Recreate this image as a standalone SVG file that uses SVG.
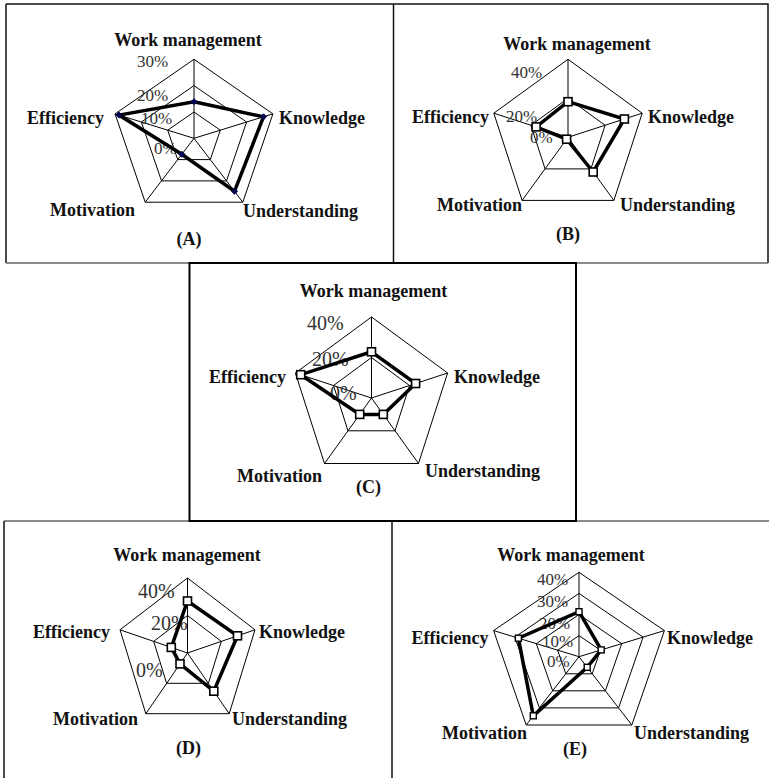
<svg xmlns="http://www.w3.org/2000/svg" width="770" height="778" viewBox="0 0 770 778">
<style>
.bg{fill:#fff}
.frame{fill:none;stroke:#111;stroke-width:1.5}
.frameg{fill:none;stroke:#666;stroke-width:1.5}
.framec{fill:none;stroke:#000;stroke-width:2}
.grid{fill:none;stroke:#000;stroke-width:1}
.data{fill:none;stroke:#000;stroke-width:3.5;stroke-linejoin:miter}
.cat{font-family:"Liberation Serif","Times New Roman",serif;font-weight:bold;font-size:18px;fill:#111}
.pct{font-family:"Liberation Serif","Times New Roman",serif;font-size:17px;fill:#333}
.pct20{font-family:"Liberation Serif","Times New Roman",serif;font-size:20px;fill:#333}
.mid{text-anchor:middle}
.end{text-anchor:end}
</style>
<defs>
<marker id="dot" markerWidth="8" markerHeight="8" refX="4" refY="4" markerUnits="userSpaceOnUse"><path d="M4,1 L7,4 L4,7 L1,4 Z" fill="#000050" stroke="#000050" stroke-width="1"/></marker>
<marker id="sq" markerWidth="12" markerHeight="12" refX="6" refY="6" markerUnits="userSpaceOnUse"><rect x="2" y="2" width="8" height="8" fill="#fff" stroke="#000" stroke-width="1.6"/></marker>
<marker id="sqs" markerWidth="10" markerHeight="10" refX="5" refY="5" markerUnits="userSpaceOnUse"><rect x="2" y="2" width="6" height="6" fill="#fff" stroke="#000" stroke-width="1.4"/></marker>
</defs>
<rect class="bg" x="0" y="0" width="770" height="778"/>

<g id="frames">
<path class="frame" d="M6,4 H768 V263 M6,4 V263 M393.5,4 V263"/>
<path class="frameg" d="M6,263 H768"/>
<path class="frameg" d="M4,521 H769"/>
<path class="frame" d="M4,521 V778 M392,521 V778"/>
<rect class="framec" x="189.5" y="263" width="386.5" height="258"/>
</g>

<g id="panel-a">
<path class="grid" d="M194,59.3 L272.9,113.9 L242.8,202.2 L145.2,202.2 L115.1,113.9 Z M194,85.6 L246.6,122 L226.5,180.9 L161.5,180.9 L141.4,122 Z M194,112 L220.3,130.2 L210.3,159.6 L177.7,159.6 L167.7,130.2 Z M194,138.3 L194,59.3 M194,138.3 L272.9,113.9 M194,138.3 L242.8,202.2 M194,138.3 L145.2,202.2 M194,138.3 L115.1,113.9"/>
<text class="pct" x="137" y="67">30%</text>
<text class="pct" x="137" y="101">20%</text>
<text class="pct" x="141" y="124">10%</text>
<text class="pct" x="154" y="154">0%</text>
<polygon class="data" points="194,101.7 263.5,116.8 234.5,191.3 181.8,154.3 119,115.1" marker-start="url(#dot)" marker-mid="url(#dot)"/>
<text class="cat mid" x="188" y="45.5">Work management</text>
<text class="cat" x="279" y="124">Knowledge</text>
<text class="cat end" x="104" y="124">Efficiency</text>
<text class="cat" x="50" y="216">Motivation</text>
<text class="cat" x="243" y="217">Understanding</text>
<text class="cat mid" x="189" y="245">(A)</text>
</g>

<g id="panel-b">
<path class="grid" d="M568,59.3 L642.2,113.2 L613.9,200.4 L522.1,200.4 L493.8,113.2 Z M568,98.3 L605.1,125.3 L590.9,168.9 L545.1,168.9 L530.9,125.3 Z M568,137.3 L568,59.3 M568,137.3 L642.2,113.2 M568,137.3 L613.9,200.4 M568,137.3 L522.1,200.4 M568,137.3 L493.8,113.2"/>
<text class="pct" x="511" y="78">40%</text>
<text class="pct" x="506" y="122">20%</text>
<text class="pct" x="530" y="143">0%</text>
<polygon class="data" points="568,101.7 624.4,119 593.2,172 566.6,139.2 536.1,126.9" marker-start="url(#sq)" marker-mid="url(#sq)"/>
<text class="cat mid" x="577" y="50">Work management</text>
<text class="cat" x="648" y="123">Knowledge</text>
<text class="cat end" x="489" y="123">Efficiency</text>
<text class="cat" x="437" y="211">Motivation</text>
<text class="cat" x="620" y="211">Understanding</text>
<text class="cat mid" x="568" y="240">(B)</text>
</g>

<g id="panel-c">
<path class="grid" d="M371.5,317 L447.6,373 L418.5,463.5 L324.5,463.5 L295.4,373 Z M371.5,357.5 L409.5,385.5 L395,430.8 L348,430.8 L333.5,385.5 Z M371.5,398 L371.5,317 M371.5,398 L447.6,373 M371.5,398 L418.5,463.5 M371.5,398 L324.5,463.5 M371.5,398 L295.4,373"/>
<text class="pct20" x="307" y="330">40%</text>
<text class="pct20" x="312" y="366">20%</text>
<text class="pct20" x="330" y="400">0%</text>
<polygon class="data" points="371.5,351.8 415.6,383.5 383.3,414.4 359.7,414.4 300.7,374.7" marker-start="url(#sq)" marker-mid="url(#sq)"/>
<text class="cat mid" x="373.5" y="297">Work management</text>
<text class="cat" x="454" y="382.5">Knowledge</text>
<text class="cat end" x="286" y="382.5">Efficiency</text>
<text class="cat" x="237" y="482">Motivation</text>
<text class="cat" x="425" y="477">Understanding</text>
<text class="cat mid" x="368.5" y="493">(C)</text>
</g>

<g id="panel-d">
<path class="grid" d="M187.5,578 L255,629.8 L229.2,713.7 L145.8,713.7 L120,629.8 Z M187.5,615.5 L221.3,641.4 L208.4,683.3 L166.6,683.3 L153.7,641.4 Z M187.5,653 L187.5,578 M187.5,653 L255,629.8 M187.5,653 L229.2,713.7 M187.5,653 L145.8,713.7 M187.5,653 L120,629.8"/>
<text class="pct20" x="138" y="598">40%</text>
<text class="pct20" x="151" y="630">20%</text>
<text class="pct20" x="136" y="677">0%</text>
<polygon class="data" points="187.5,601 237.5,635.8 213.8,691.2 180,663.9 171.3,647.4" marker-start="url(#sq)" marker-mid="url(#sq)"/>
<text class="cat mid" x="187" y="560.5">Work management</text>
<text class="cat" x="259" y="637.5">Knowledge</text>
<text class="cat end" x="110" y="637.5">Efficiency</text>
<text class="cat" x="53" y="725">Motivation</text>
<text class="cat" x="232" y="725">Understanding</text>
<text class="cat mid" x="188.5" y="754">(D)</text>
</g>

<g id="panel-e">
<path class="grid" d="M579,572.3 L664.4,630.6 L631.8,725 L526.2,725 L493.6,630.6 Z M579,593.4 L643.1,637.1 L618.6,707.9 L539.4,707.9 L514.9,637.1 Z M579,614.5 L621.7,643.7 L605.4,690.8 L552.6,690.8 L536.3,643.7 Z M579,635.6 L600.4,650.2 L592.2,673.8 L565.8,673.8 L557.6,650.2 Z M579,656.7 L579,572.3 M579,656.7 L664.4,630.6 M579,656.7 L631.8,725 M579,656.7 L526.2,725 M579,656.7 L493.6,630.6"/>
<text class="pct" x="537" y="585">40%</text>
<text class="pct" x="537" y="607">30%</text>
<text class="pct" x="539" y="628.5">20%</text>
<text class="pct" x="542" y="647">10%</text>
<text class="pct" x="547" y="667">0%</text>
<polygon class="data" points="579,611.7 601.2,649.9 587.2,667.3 533.3,715.8 518.4,638.2" marker-start="url(#sqs)" marker-mid="url(#sqs)"/>
<text class="cat mid" x="571" y="560.5">Work management</text>
<text class="cat" x="667" y="643.5">Knowledge</text>
<text class="cat end" x="488.5" y="643.5">Efficiency</text>
<text class="cat" x="442" y="738.5">Motivation</text>
<text class="cat" x="634" y="738.5">Understanding</text>
<text class="cat mid" x="575" y="755">(E)</text>
</g>
</svg>
